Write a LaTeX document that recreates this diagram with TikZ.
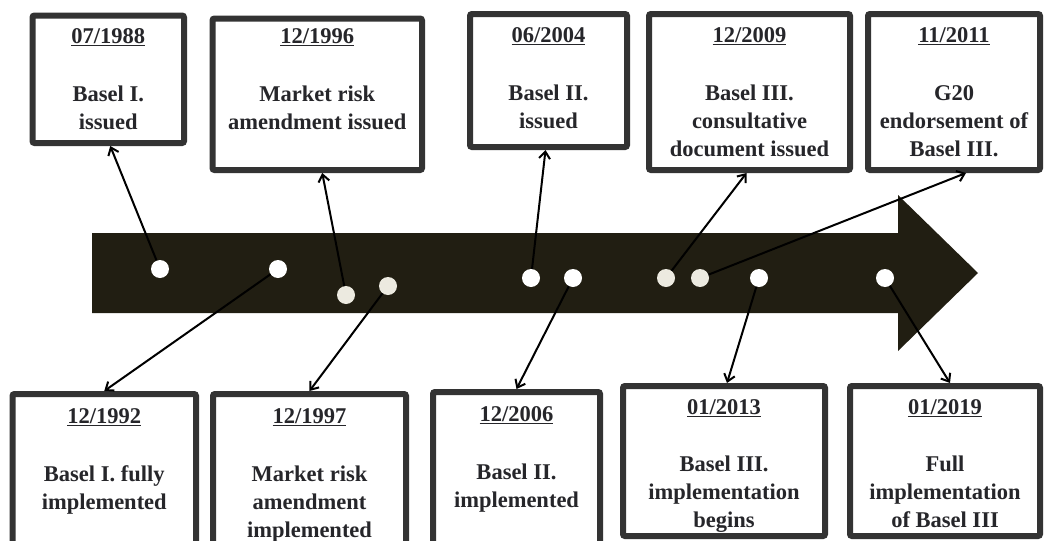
\documentclass[tikz,border=0pt]{standalone}
\usepackage{fontspec}
\setmainfont{Liberation Serif}
\usetikzlibrary{arrows.meta}
\definecolor{arrowbody}{RGB}{33,30,18}
\definecolor{boxline}{RGB}{51,51,51}
\definecolor{txtcol}{RGB}{38,38,42}
\definecolor{cream}{RGB}{236,234,224}
\begin{document}
\begin{tikzpicture}[x=1pt,y=-1pt,
  evbox/.style={draw=boxline, line width=6pt, rounded corners=2pt, fill=white, inner sep=0pt},
  evtext/.style={anchor=north, align=center, inner sep=0pt, text=txtcol,
    font=\bfseries\fontsize{22.5}{28}\selectfont},
  dotw/.style={circle, fill=white, minimum size=18pt, inner sep=0pt},
  dotc/.style={dotw, fill=cream},
  conn/.style={draw=black, line width=2pt, -{Straight Barb[length=7pt,width=11pt]}}
]
\useasboundingbox (0,0) rectangle (1045,541);
\clip (0,0) rectangle (1045,541);

% timeline arrow
\fill[arrowbody] (92,233) -- (898,233) -- (898,195) -- (978,273) -- (898,351)
  -- (898,313) -- (92,313) -- cycle;

% top boxes
\node[evbox, minimum width=151.5pt, minimum height=127.5pt] (b1) at (108.25,79.25) {};
\node[evbox, minimum width=209.5pt, minimum height=151.5pt] (b2) at (317.25,94.25) {};
\node[evbox, minimum width=157pt, minimum height=133pt] (b3) at (548.5,80.5) {};
\node[evbox, minimum width=201pt, minimum height=156pt] (b4) at (749.5,92) {};
\node[evbox, minimum width=172pt, minimum height=156pt] (b5) at (954,92) {};

% bottom boxes
\node[evbox, minimum width=183.5pt, minimum height=166pt] (c1) at (104.25,477) {};
\node[evbox, minimum width=193pt, minimum height=166pt] (c2) at (309.5,477) {};
\node[evbox, minimum width=167pt, minimum height=168pt] (c3) at (516.5,476) {};
\node[evbox, minimum width=202pt, minimum height=150pt] (c4) at (724,461) {};
\node[evbox, minimum width=190pt, minimum height=150pt] (c5) at (945,461) {};

% texts
\node[evtext] (t1) at ([yshift=-16pt]b1.north) {\underline{07/1988}\\[30pt] Basel I.\\ issued};
\node[evtext] (t2) at ([yshift=-13pt]b2.north) {\underline{12/1996}\\[30pt] Market risk\\ amendment issued};
\node[evtext] (t3) at ([yshift=-16pt]b3.north) {\underline{06/2004}\\[30pt] Basel II.\\ issued};
\node[evtext] (t4) at ([yshift=-16pt]b4.north) {\underline{12/2009}\\[30pt] Basel III.\\ consultative\\ document issued};
\node[evtext] (t5) at ([yshift=-16pt]b5.north) {\underline{11/2011}\\[30pt] G20\\ endorsement of\\ Basel III.};
\node[evtext] (u1) at ([yshift=-17pt]c1.north) {\underline{12/1992}\\[30pt] Basel I. fully\\ implemented};
\node[evtext] (u2) at ([yshift=-17pt]c2.north) {\underline{12/1997}\\[30pt] Market risk\\ amendment\\ implemented};
\node[evtext] (u3) at ([yshift=-17pt]c3.north) {\underline{12/2006}\\[30pt] Basel II.\\ implemented};
\node[evtext] (u4) at ([yshift=-16pt]c4.north) {\underline{01/2013}\\[29pt] Basel III.\\ implementation\\ begins};
\node[evtext] (u5) at ([yshift=-16pt]c5.north) {\underline{01/2019}\\[29pt] Full\\ implementation\\ of Basel III};

% dots
\node[dotw] (d1) at (160,269) {};
\node[dotw] (d2) at (278,269) {};
\node[dotc] (d3) at (346,295) {};
\node[dotc] (d4) at (388,286) {};
\node[dotw] (d5) at (531,278) {};
\node[dotw] (d6) at (573,278) {};
\node[dotc] (d7) at (666,278) {};
\node[dotc] (d8) at (700,278) {};
\node[dotw] (d9) at (759,278) {};
\node[dotw] (d10) at (885,278) {};

% connectors
\draw[conn] (d1) -- ([xshift=2pt]b1.south);
\draw[conn] (d2) -- (c1.north);
\draw[conn] (d3) -- ([xshift=5pt]b2.south);
\draw[conn] (d4) -- (c2.north);
\draw[conn] (d5) -- ([xshift=-3pt]b3.south);
\draw[conn] (d6) -- (c3.north);
\draw[conn] (d7) -- ([xshift=-3pt]b4.south);
\draw[conn] (d8) -- ([xshift=12pt]b5.south);
\draw[conn] (d9) -- ([xshift=3pt]c4.north);
\draw[conn] (d10) -- ([xshift=5pt]c5.north);
\end{tikzpicture}
\end{document}
